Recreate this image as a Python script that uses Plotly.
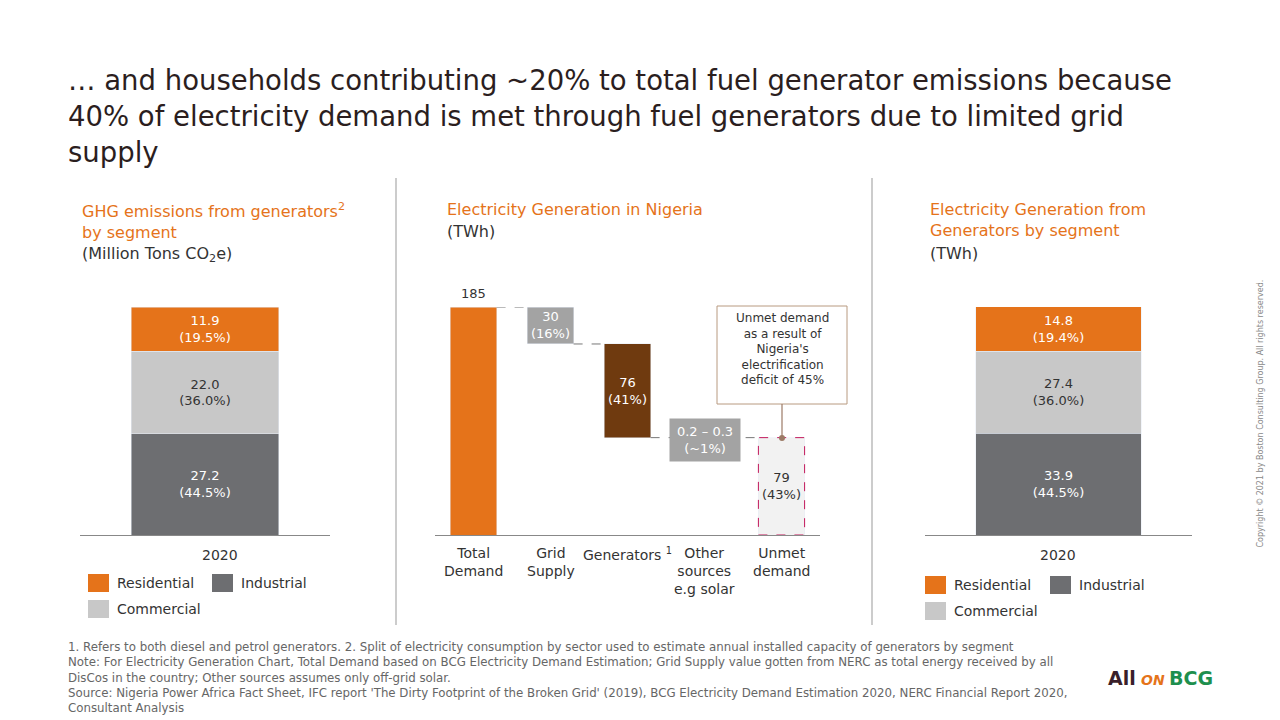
import plotly.graph_objects as go

W, H = 1280, 720
OFF = 8
def px(x): return (x - OFF) / W
def py(y): return 1 - (y - OFF) / H

ORANGE = "#E5731A"; LGRAY = "#C8C8C8"; DGRAY = "#6D6E71"; BROWN = "#6F3A0F"; MGRAY = "#A3A3A3"
TXT = "#333333"; FONT = "DejaVu Sans"

# Left chart data
ghg_segments = ["Industrial", "Commercial", "Residential"]
ghg_values = [27.2, 22.0, 11.9]
ghg_pct = ["44.5%", "36.0%", "19.5%"]
ghg_total = 61.1
year = ["2020"]

# Middle waterfall
wf_cats = ["Total<br>Demand", "Grid<br>Supply", "Generators <sup>1</sup>", "Other<br>sources<br>e.g solar", "Unmet<br>demand"]
wf_values = [185, 30, 76, 0.25, 79]
wf_base = [0, 155, 79, 78.75, 0]
wf_labels = ["185", "30<br>(16%)", "76<br>(41%)", "0.2 – 0.3<br>(~1%)", "79<br>(43%)"]

# Right chart data
gen_values = [33.9, 27.4, 14.8]
gen_pct = ["44.5%", "36.0%", "19.4%"]
gen_total = 76.0

seg_colors = [DGRAY, LGRAY, ORANGE]
seg_text = ["white", TXT, "white"]

fig = go.Figure()
ydom = [py(535), py(307)]

for i, s in enumerate(ghg_segments):
    fig.add_bar(x=year, y=[ghg_values[i]], marker_color=seg_colors[i], width=0.59,
                text=[f"{ghg_values[i]:.1f}<br>({ghg_pct[i]})"], textposition="inside",
                insidetextanchor="middle", textfont=dict(color=seg_text[i], size=13, family=FONT),
                xaxis="x", yaxis="y", showlegend=False)
    fig.add_bar(x=year, y=[gen_values[i]], marker_color=seg_colors[i], width=0.62,
                text=[f"{gen_values[i]:.1f}<br>({gen_pct[i]})"], textposition="inside",
                insidetextanchor="middle", textfont=dict(color=seg_text[i], size=13, family=FONT),
                xaxis="x3", yaxis="y3", showlegend=False)

wf_colors = [ORANGE, MGRAY, BROWN, MGRAY, "#F2F2F2"]
idx = list(range(len(wf_cats)))
fig.add_bar(x=idx, y=wf_values, base=wf_base, marker_color=wf_colors, width=0.6,
            xaxis="x2", yaxis="y2", showlegend=False, hoverinfo="skip")

fig.update_layout(
    width=W, height=H, margin=dict(l=0, r=0, t=0, b=0), barmode="stack",
    plot_bgcolor="white", paper_bgcolor="white", font=dict(family=FONT, color=TXT, size=13),
    uniformtext=dict(minsize=8),
    xaxis=dict(domain=[px(80), px(330)], type="category", range=[-0.5, 0.5], anchor="y",
               showticklabels=False, showline=True, linecolor="#888", showgrid=False),
    yaxis=dict(domain=ydom, range=[0, ghg_total], visible=False, anchor="x"),
    xaxis2=dict(domain=[px(435), px(820)], range=[-0.5, 4.5], anchor="y2",
                showticklabels=False, showline=True, linecolor="#888", showgrid=False),
    yaxis2=dict(domain=ydom, range=[0, 185], visible=False, anchor="x2"),
    xaxis3=dict(domain=[px(925), px(1192)], type="category", range=[-0.5, 0.5], anchor="y3",
                showticklabels=False, showline=True, linecolor="#888", showgrid=False),
    yaxis3=dict(domain=ydom, range=[0, gen_total], visible=False, anchor="x3"),
)

shapes = []; ann = []
def A(x, y, text, size=14, color=TXT, xa="left", ya="top", **kw):
    ann.append(dict(x=px(x), y=py(y), xref="paper", yref="paper", text=text, showarrow=False,
                    xanchor=xa, yanchor=ya, align=kw.pop("align", xa if xa != "center" else "center"),
                    font=dict(size=size, color=color, family=FONT), **kw))

A(66, 62, "… and households contributing ~20% to total fuel generator emissions because<br>40% of electricity demand is met through fuel generators due to limited grid<br>supply", size=27.5, color="#2b1e1e")
A(80, 198, "GHG emissions from generators<sup>2</sup><br>by segment", 16, ORANGE)
A(80, 242, "(Million Tons CO<sub>2</sub>e)", 16, TXT)
A(445, 198, "Electricity Generation in Nigeria", 16, ORANGE)
A(445, 220, "(TWh)", 16, TXT)
A(928, 198, "Electricity Generation from<br>Generators by segment", 16, ORANGE)
A(928, 242, "(TWh)", 16, TXT)

ann.append(dict(x="2020", y=ghg_total, xref="x", yref="y", text=f"{ghg_total}", showarrow=False, yanchor="bottom", yshift=4, font=dict(size=13, family=FONT, color=TXT)))
ann.append(dict(x="2020", y=gen_total, xref="x3", yref="y3", text=f"{gen_total:.1f}", showarrow=False, yanchor="bottom", yshift=4, font=dict(size=13, family=FONT, color=TXT)))
A(220, 545, "2020", 14, TXT, xa="center")
A(1058, 545, "2020", 14, TXT, xa="center")

for i in idx:
    top = wf_base[i] + wf_values[i]
    if i == 0:
        ann.append(dict(x=i, y=top, xref="x2", yref="y2", text=wf_labels[i], showarrow=False, yanchor="bottom", yshift=4, font=dict(size=13, family=FONT, color=TXT)))
    elif i == 3:
        ann.append(dict(x=i, y=top, xref="x2", yref="y2", text=wf_labels[i], showarrow=False, yanchor="middle", yshift=-2,
                        bgcolor=MGRAY, width=68, height=40, font=dict(size=13, family=FONT, color="white")))
    elif i == 4:
        ann.append(dict(x=i, y=top / 2, xref="x2", yref="y2", text=wf_labels[i], showarrow=False, font=dict(size=13, family=FONT, color=TXT)))
    else:
        ann.append(dict(x=i, y=wf_base[i] + wf_values[i] / 2, xref="x2", yref="y2", text=wf_labels[i], showarrow=False,
                        font=dict(size=13, family=FONT, color="white")))
    ann.append(dict(x=i, y=py(543), xref="x2", yref="paper", text=wf_cats[i].replace("<br>", "<br>\u200b"), showarrow=False, yanchor="top",
                    font=dict(size=14, family=FONT, color=TXT)))

for i in range(4):
    lvl = wf_base[i] if i > 0 else wf_values[0]
    if i == 3:
        lvl = wf_base[4] + wf_values[4]
    shapes.append(dict(type="line", xref="x2", yref="y2", x0=i + 0.3, x1=i + 0.7, y0=lvl, y1=lvl,
                       line=dict(color="#777", width=1, dash="dash")))
shapes.append(dict(type="rect", xref="x2", yref="y2", x0=3.7, x1=4.3, y0=wf_base[4], y1=wf_base[4] + wf_values[4],
                   line=dict(color="#C2185B", width=1, dash="dash")))
shapes.append(dict(type="rect", xref="paper", yref="paper", x0=px(717), x1=px(847), y0=py(404), y1=py(306),
                   line=dict(color="#B89A80", width=1), fillcolor="white"))
shapes.append(dict(type="line", xref="paper", yref="paper", x0=px(782), x1=px(782), y0=py(404), y1=py(438),
                   line=dict(color="#9C7A66", width=1.2)))
shapes.append(dict(type="circle", xref="paper", yref="paper", x0=px(779), x1=px(785), y0=py(441), y1=py(435),
                   fillcolor="#9C7A66", line=dict(width=0)))
A(782, 309, "Unmet demand<br>as a result of<br>Nigeria's<br>electrification<br>deficit of 45%", 12, TXT, xa="center")

for x in (396, 872):
    shapes.append(dict(type="line", xref="paper", yref="paper", x0=px(x), x1=px(x), y0=py(178), y1=py(625),
                       line=dict(color="#999", width=1)))

def legend(x, y, color, label):
    shapes.append(dict(type="rect", xref="paper", yref="paper", x0=px(x), x1=px(x + 21), y0=py(y + 18), y1=py(y),
                       fillcolor=color, line=dict(width=0)))
    A(x + 27, y + 9, label, 14, TXT, ya="middle")
legend(88, 574, ORANGE, "Residential"); legend(212, 574, DGRAY, "Industrial"); legend(88, 600, LGRAY, "Commercial")
legend(925, 576, ORANGE, "Residential"); legend(1050, 576, DGRAY, "Industrial"); legend(925, 602, LGRAY, "Commercial")

A(66, 638, "1. Refers to both diesel and petrol generators. 2. Split of electricity consumption by sector used to estimate annual installed capacity of generators by segment<br>"
           "Note: For Electricity Generation Chart, Total Demand based on BCG Electricity Demand Estimation; Grid Supply value gotten from NERC as total energy received by all<br>"
           "DisCos in the country; Other sources assumes only off-grid solar.<br>"
           "Source: Nigeria Power Africa Fact Sheet, IFC report 'The Dirty Footprint of the Broken Grid' (2019), BCG Electricity Demand Estimation 2020, NERC Financial Report 2020,<br>"
           "Consultant Analysis", 11.8, "#666")
A(1106, 678, "<b>All</b>", 19, "#3a1f2a", xa="left", ya="middle")
A(1139, 680, "<b><i>ON</i></b>", 14, ORANGE, xa="left", ya="middle")
A(1215, 678, "<b>BCG</b>", 19, "#1E8F4E", xa="right", ya="middle")
ann.append(dict(x=px(1266), y=py(550), xref="paper", yref="paper", text="Copyright © 2021 by Boston Consulting Group. All rights reserved.",
                showarrow=False, textangle=-90, font=dict(size=8, color="#888", family=FONT)))

fig.update_layout(shapes=shapes, annotations=ann)
fig.write_html("out.html")
